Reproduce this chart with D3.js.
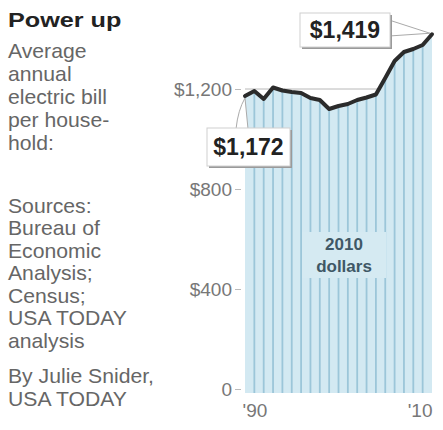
<!DOCTYPE html>
<html>
<head>
<meta charset="utf-8">
<script src="https://cdn.jsdelivr.net/npm/d3@7"></script>
<style>
  body { margin: 0; background: #fff; }
  svg { display: block; font-family: "Liberation Sans", Arial, sans-serif; }
</style>
</head>
<body>
<script>
// average annual electric bill per household, 2010 dollars
const years = d3.range(1990, 2011);
const bills = [1172, 1192, 1160, 1206, 1194, 1188, 1184, 1164, 1156, 1120, 1132,
               1140, 1156, 1166, 1178, 1244, 1312, 1348, 1360, 1376, 1419];
const yTicks = [0, 400, 800, 1200];
const xTicks = [1990, 2010];

const title = "Power up";
const intro = ["Average", "annual", "electric bill", "per house-", "hold:"];
const sources = ["Sources:", "Bureau of", "Economic", "Analysis;", "Census;", "USA TODAY", "analysis"];
const credit = ["By Julie Snider,", "USA TODAY"];

const w = 443, h = 430;
const svg = d3.select("body").append("svg")
  .attr("width", w)
  .attr("height", h);

svg.append("rect").attr("width", w).attr("height", h).attr("fill", "#fff");

// left text column
svg.append("text")
  .attr("x", 8).attr("y", 27)
  .attr("font-size", 21).attr("font-weight", "bold").attr("fill", "#222")
  .attr("transform", "translate(8,0) scale(1.2,1) translate(-8,0)")
  .text(title);

const textBlock = (lines, y0, step) => {
  svg.append("g").selectAll("text")
    .data(lines)
    .enter()
    .append("text")
    .attr("x", 8)
    .attr("y", (d, i) => y0 + i * step)
    .attr("font-size", 20)
    .attr("fill", "#666")
    .attr("transform", "translate(8,0) scale(1.06,1) translate(-8,0)")
    .text(d => d);
};
textBlock(intro, 58, 23);
textBlock(sources, 213, 22.5);
textBlock(credit, 383, 23.5);

// chart
const x = d3.scaleLinear().domain([1990, 2010]).range([245, 432]);
const y = d3.scaleLinear().domain([0, 1200]).range([389, 89]);

// gridlines behind the area
svg.append("g").selectAll("line")
  .data(yTicks.filter(d => d > 0))
  .enter()
  .append("line")
  .attr("x1", x(1990)).attr("x2", x(2010))
  .attr("y1", d => y(d)).attr("y2", d => y(d))
  .attr("stroke", "#b8b8b8").attr("stroke-width", 1);

const data = years.map((yr, i) => ({ year: yr, value: bills[i] }));

svg.append("path")
  .datum(data)
  .attr("fill", "#d3e9f2")
  .attr("d", d3.area().x(d => x(d.year)).y0(y(0) + 4).y1(d => y(d.value)));

// year stripes
svg.append("g").selectAll("line")
  .data(data.slice(1, -1))
  .enter()
  .append("line")
  .attr("x1", d => x(d.year)).attr("x2", d => x(d.year))
  .attr("y1", y(0) + 4).attr("y2", d => y(d.value))
  .attr("stroke", "#9cc6d9").attr("stroke-width", 1.8);

// "2010 dollars" label box
svg.append("rect")
  .attr("x", 302).attr("y", 232).attr("width", 84).attr("height", 46)
  .attr("fill", "#d5eaf2");
svg.append("text")
  .attr("x", 344).attr("y", 250)
  .attr("text-anchor", "middle").attr("font-size", 17).attr("font-weight", "bold")
  .attr("fill", "#3f5866")
  .selectAll("tspan")
  .data(["2010", "dollars"])
  .enter()
  .append("tspan")
  .attr("x", 344)
  .attr("dy", (d, i) => i ? 22 : 0)
  .text(d => d);

svg.append("path")
  .datum(data)
  .attr("fill", "none")
  .attr("stroke", "#2b2b2b")
  .attr("stroke-width", 4)
  .attr("stroke-linejoin", "round")
  .attr("stroke-linecap", "round")
  .attr("d", d3.line().x(d => x(d.year)).y(d => y(d.value)));

// axes
const yAxis = svg.append("g")
  .attr("transform", `translate(${x(1990) - 4},0)`)
  .call(d3.axisLeft(y)
    .tickValues(yTicks)
    .tickSize(6)
    .tickPadding(3)
    .tickFormat(d => d === 0 ? "0" : "$" + d3.format(",")(d)));
yAxis.select(".domain").remove();
yAxis.selectAll(".tick line").attr("stroke", "#bbb");
yAxis.selectAll(".tick text")
  .attr("font-family", "Liberation Sans, Arial, sans-serif")
  .attr("font-size", 19).attr("fill", "#777");

const xAxis = svg.append("g")
  .attr("transform", `translate(0,${y(0) + 11})`)
  .call(d3.axisBottom(x)
    .tickValues(xTicks)
    .tickSize(0)
    .tickFormat(d => "'" + String(d).slice(2)));
xAxis.select(".domain").remove();
xAxis.selectAll(".tick text")
  .attr("font-family", "Liberation Sans, Arial, sans-serif")
  .attr("font-size", 19).attr("fill", "#777")
  .attr("text-anchor", (d, i) => i ? "end" : "start")
  .attr("dx", (d, i) => i ? 0 : -3);

// callouts
const callout = (label, bx, by, bw, bh, tail) => {
  const g = svg.append("g");
  g.append("path")
    .attr("d", tail)
    .attr("fill", "#fff").attr("stroke", "#aaa").attr("stroke-width", 1);
  g.append("rect")
    .attr("x", bx + 2).attr("y", by + 2).attr("width", bw).attr("height", bh)
    .attr("fill", "#9a9a9a");
  g.append("rect")
    .attr("x", bx).attr("y", by).attr("width", bw).attr("height", bh)
    .attr("fill", "#fff").attr("stroke", "#d0d0d0");
  g.append("text")
    .attr("x", bx + bw / 2).attr("y", by + bh / 2 + 8)
    .attr("text-anchor", "middle")
    .attr("font-size", 23).attr("font-weight", "bold").attr("fill", "#222")
    .text(label);
};

const first = data[0], last = data[data.length - 1];
const fmt = d => "$" + d3.format(",")(d);
callout(fmt(last.value), 300, 13, 90, 34,
  `M389,20 L${x(last.year) - 2},${y(last.value) - 1} L389,36 Z`);
callout(fmt(first.value), 207, 128, 83, 38,
  `M236,129 Q238,110 ${x(first.year)},${y(first.value) + 2} L248,129 Z`);
</script>
</body>
</html>
